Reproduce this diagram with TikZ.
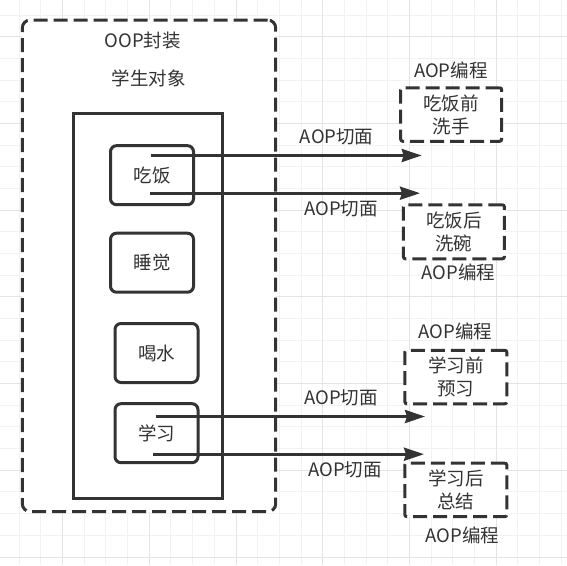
\documentclass[tikz,border=0pt]{standalone}
\usepackage{fontspec}
\newfontfamily\cjk{Noto Sans CJK SC}
\usetikzlibrary{arrows.meta}
\definecolor{ink}{HTML}{333333}
\definecolor{gridminor}{HTML}{F2F2F2}
\definecolor{gridmajor}{HTML}{E4E4E4}

\begin{document}
\begin{tikzpicture}[x=1pt, y=-1pt,
  every node/.style={font=\cjk\fontsize{18.5}{23}\selectfont, text=ink, inner sep=0pt, align=center},
  frame/.style={draw=ink, line width=3pt, fill=white},
  dashframe/.style={frame, dash pattern=on 14pt off 6pt},
  method/.style={frame, rounded corners=6pt, minimum width=83pt, minimum height=59pt},
  advice/.style={dashframe, rounded corners=2pt, minimum width=101pt, minimum height=53.5pt},
  cut/.style={draw=ink, line width=3pt, -{Stealth[length=20pt, width=13pt, inset=2pt]}}
]
\useasboundingbox (0,0) rectangle (567,565);

% background grid
\foreach \n in {-1,...,25} \draw[gridminor, line width=1pt] ({19.2+21.68*\n},0) -- ++(0,565);
\foreach \n in {0,...,25} \draw[gridminor, line width=1pt] (0,{15+21.68*\n}) -- ++(567,0);
\foreach \n in {2,6,...,22} \draw[gridmajor, line width=1pt] ({19.2+21.68*\n},0) -- ++(0,565);
\foreach \n in {1,5,...,25} \draw[gridmajor, line width=1pt] (0,{15+21.68*\n}) -- ++(567,0);

% object side
\node[dashframe, rounded corners=8pt, minimum width=253.4pt, minimum height=491.7pt] (oop) at (149,265.85) {};
\node (oopname) at (142.7,40.7) {OOP封装};
\node (student) at (148.7,78) {学生对象};
\node[frame, minimum width=149pt, minimum height=384.5pt] (obj) at (148.3,306) {};
\node[method] (eat) at (152,175.2) {吃饭};
\node[method] (sleep) at (152,262.7) {睡觉};
\node[method] (drink) at (156.5,353) {喝水};
\node[method] (study) at (156.5,433.2) {学习};

% aspect side
\node[advice] (wash) at (451.2,114.5) {吃饭前\\洗手};
\node[advice, minimum height=54pt] (dish) at (453.9,231.8) {吃饭后\\洗碗};
\node[advice, minimum width=102pt] (preview) at (455.8,377) {学习前\\预习};
\node[advice, minimum width=102pt] (review) at (455.8,489.9) {学习后\\总结};
\node (aop1) at (450.8,70.7) {AOP编程};
\node (aop2) at (458.3,272.7) {AOP编程};
\node (aop3) at (455.3,331.7) {AOP编程};
\node (aop4) at (462.5,535) {AOP编程};

\coordinate (c1s) at (150.7,155.5); \coordinate (c1e) at (421.7,155.5);
\coordinate (c2s) at (150,193.2);   \coordinate (c2e) at (420,193.2);
\coordinate (c3s) at (155.7,416.5); \coordinate (c3e) at (425,416.5);
\coordinate (c4s) at (153.3,454.2); \coordinate (c4e) at (424,454.2);
\path
  (c1s) edge[cut] (c1e)
  (c2s) edge[cut] (c2e)
  (c3s) edge[cut] (c3e)
  (c4s) edge[cut] (c4e)
  ;
\node (cut1) at (336.7,136.7) {AOP切面};
\node (cut2) at (341,209.3) {AOP切面};
\node (cut3) at (341,398.3) {AOP切面};
\node (cut4) at (345,470) {AOP切面};
\end{tikzpicture}
\end{document}
